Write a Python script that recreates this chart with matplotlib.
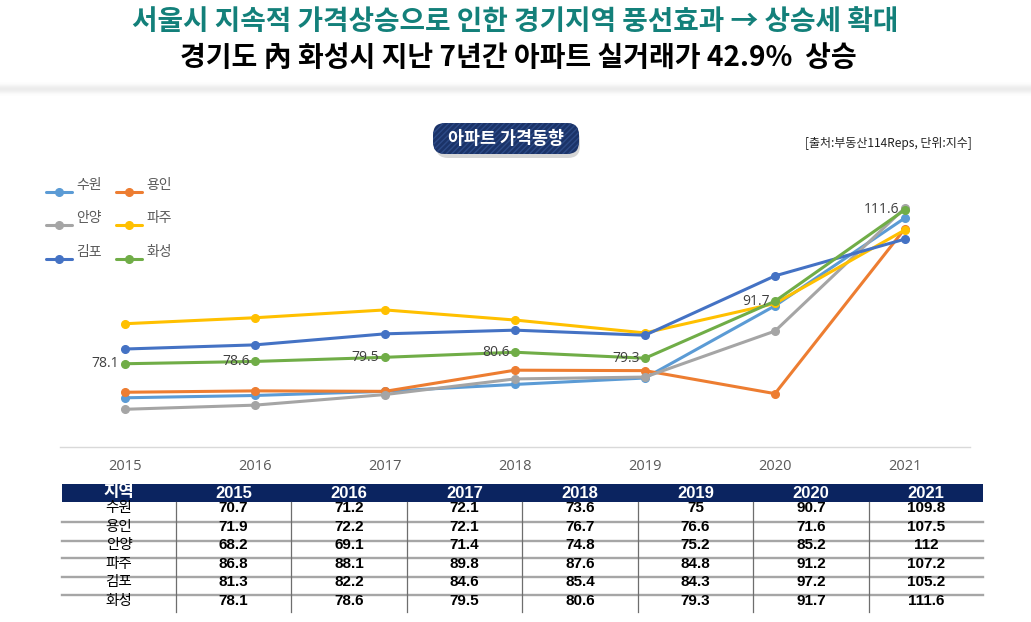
import numpy as np
import matplotlib
matplotlib.use('Agg')
import matplotlib.pyplot as plt
from matplotlib import font_manager
from matplotlib.patches import FancyBboxPatch, Rectangle
from matplotlib.legend_handler import HandlerLine2D

# data
years = ['2015', '2016', '2017', '2018', '2019', '2020', '2021']
regions = ['수원', '용인', '안양', '파주', '김포', '화성']
suwon = [70.7, 71.2, 72.1, 73.6, 75, 90.7, 109.8]
yongin = [71.9, 72.2, 72.1, 76.7, 76.6, 71.6, 107.5]
anyang = [68.2, 69.1, 71.4, 74.8, 75.2, 85.2, 112]
paju = [86.8, 88.1, 89.8, 87.6, 84.8, 91.2, 107.2]
gimpo = [81.3, 82.2, 84.6, 85.4, 84.3, 97.2, 105.2]
hwaseong = [78.1, 78.6, 79.5, 80.6, 79.3, 91.7, 111.6]
series = [suwon, yongin, anyang, paju, gimpo, hwaseong]
colors = ['#5B9BD5', '#ED7D31', '#A5A5A5', '#FFC000', '#4472C4', '#70AD47']

title1 = '서울시 지속적 가격상승으로 인한 경기지역 풍선효과 → 상승세 확대'
title2 = '경기도 內 화성시 지난 7년간 아파트 실거래가 42.9%  상승'
badge = '아파트 가격동향'
source = '[출처:부동산114Reps, 단위:지수]'

installed = {f.name for f in font_manager.fontManager.ttflist}
KR = 'Noto Sans CJK KR'
narrow = 'Liberation Sans Narrow' if 'Liberation Sans Narrow' in installed else 'Liberation Sans'
num_size = 12.4 if narrow == 'Liberation Sans Narrow' else 11
plt.rcParams['font.family'] = ['Open Sans', KR, 'DejaVu Sans']


class LowLine(HandlerLine2D):
    # legend marker sits a bit below the label, like the original
    def create_artists(self, legend, orig_handle, xdescent, ydescent, width, height,
                       fontsize, trans):
        return super().create_artists(legend, orig_handle, xdescent, ydescent + 11,
                                      width, height, fontsize, trans)


fig = plt.figure(figsize=(10.31, 6.22), dpi=100)

# overlay in pixel coords
ov = fig.add_axes([0, 0, 1, 1])
ov.set_xlim(0, 1031)
ov.set_ylim(622, 0)
ov.axis('off')

# soft shadow band under title
grad = np.linspace(-1, 1, 30)
alpha = np.exp(-(grad * 2.2) ** 2) * 0.12
img = np.zeros((30, 1, 4))
img[:, 0, :3] = 0.35
img[:, 0, 3] = alpha
ov.imshow(img, extent=[0, 1031, 98, 80], aspect='auto', zorder=0)

ov.text(515, 22, title1, ha='center', va='center', fontsize=20,
        fontweight='bold', color='#13807a', family=[KR, 'DejaVu Sans'])
ov.text(518, 58, title2, ha='center', va='center', fontsize=20.2,
        fontweight='bold', color='black', family=[KR, 'DejaVu Sans'])

# badge
ov.add_patch(FancyBboxPatch((436, 128), 144, 30, boxstyle='round,pad=0,rounding_size=12',
                            fc='#8a8a8a', ec='none', alpha=0.35, zorder=1))
ov.add_patch(FancyBboxPatch((433, 123), 146, 31, boxstyle='round,pad=0,rounding_size=12',
                            fc='#1b3368', ec='#2c4a86', lw=0, hatch='//////', zorder=2))
ov.text(506, 138.5, badge, ha='center', va='center', fontsize=12.5, fontweight='bold',
        color='white', family=[KR], zorder=3)
ov.text(972, 143, source, ha='right', va='center', fontsize=8.6, color='#222222',
        family=[KR])

# table
x0, x1 = 62, 983
col_edges = [62, 176, 291, 407, 522, 638, 753, 869, 983]
ov.add_patch(Rectangle((x0, 484), x1 - x0, 18, fc='#0b2460', ec='none'))
header = ['지역'] + years
for i, h in enumerate(header):
    cx = (col_edges[i] + col_edges[i + 1]) / 2
    ov.text(cx, 493, h, ha='center', va='center', fontsize=num_size + 1, fontweight='bold',
            color='white', family=[narrow, KR])
for yl in [522, 541, 558, 577, 595]:
    ov.plot([x0, x1], [yl, yl], color='#a6a6a6', lw=1.7)
for xv in col_edges[1:-1]:
    ov.plot([xv, xv], [502, 612], color='#6e6e6e', lw=0.9)
for r, (name, vals) in enumerate(zip(regions, series)):
    ry = 508 + r * 18.6
    ov.text((col_edges[0] + col_edges[1]) / 2, ry, name, ha='center', va='center',
            fontsize=10.5, color='black', family=[KR])
    for c, v in enumerate(vals):
        cx = (col_edges[c + 1] + col_edges[c + 2]) / 2
        ov.text(cx, ry, f'{v:g}', ha='center', va='center', fontsize=num_size,
                fontweight='bold', color='black', family=[narrow, KR])

# line chart
ax = fig.add_axes([60 / 1031, 175 / 622, 910 / 1031, 276 / 622])
ax.patch.set_alpha(0)
x = np.arange(len(years))
handles = []
for name, vals, col in zip(regions, series, colors):
    h, = ax.plot(x, vals, color=col, lw=2.2, marker='o', markersize=5.5, label=name,
                 solid_capstyle='round')
    handles.append(h)

for xi, v in zip(x, hwaseong):
    ax.annotate(f'{v:g}', (xi, v), xytext=(-4, 0), textcoords='offset points',
                ha='right', va='center', fontsize=10, color='#404040')

ax.set_xlim(-0.5, 6.5)
ax.set_ylim(60, 120)
ax.set_xticks(x)
ax.set_xticklabels(years, fontsize=10.5, color='#595959')
ax.tick_params(axis='x', length=0, pad=9)
ax.set_yticks([])
for s in ['top', 'left', 'right']:
    ax.spines[s].set_visible(False)
ax.spines['bottom'].set_color('#d9d9d9')
ax.spines['bottom'].set_linewidth(1)

order = [0, 2, 4, 1, 3, 5]
leg = fig.legend([handles[i] for i in order], [regions[i] for i in order], ncol=2,
                 loc='upper left', bbox_to_anchor=(46 / 1031, 1 - 178 / 622),
                 frameon=False, borderpad=0, borderaxespad=0, handlelength=1.9,
                 handletextpad=0.3, columnspacing=1.0, labelspacing=1.4,
                 handler_map={matplotlib.lines.Line2D: LowLine()},
                 prop={'family': [KR], 'size': 10})
for t in leg.get_texts():
    t.set_color('#595959')

fig.savefig('out.png', dpi=100)
